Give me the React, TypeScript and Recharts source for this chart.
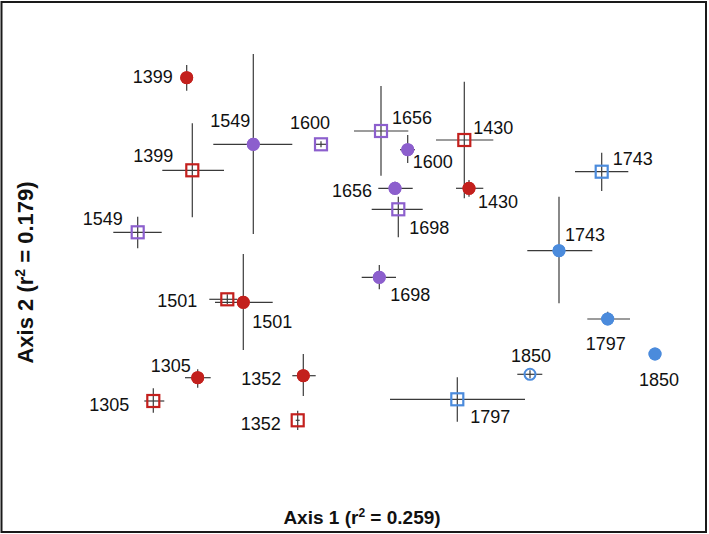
import React from 'react';
import { ScatterChart, Scatter, XAxis, YAxis, ErrorBar } from 'recharts';

// Ordination scores (arbitrary axis units), error extents [low, high]
const redCircles = [
  { year: '1305', x: 196.7, y: 154.3, ex: [12.7, 13], ey: [10, 8.4] },
  { year: '1352', x: 302.3, y: 156.3, ex: [11, 12.4], ey: [20.3, 21.7] },
  { year: '1399', x: 185.7, y: 454.3, ex: [0, 0], ey: [13, 12.7] },
  { year: '1430', x: 468, y: 343.7, ex: [13, 14.3], ey: [8.4, 8.3] },
  { year: '1501', x: 242.3, y: 229.7, ex: [28.3, 29.4], ey: [47.7, 48.3] },
];
const redSquares = [
  { year: '1305', x: 152.3, y: 131, ex: [9, 11], ey: [11.7, 12.7] },
  { year: '1352', x: 296.7, y: 111.7, ex: [2, 2], ey: [9.7, 9.6] },
  { year: '1399', x: 191.3, y: 361.7, ex: [30, 31.7], ey: [47, 47] },
  { year: '1430', x: 463.3, y: 392, ex: [28.3, 29], ey: [58.3, 58.3] },
  { year: '1501', x: 226.3, y: 232.7, ex: [18, 10], ey: [5, 5] },
];
const purpleCircles = [
  { year: '1549', x: 252.3, y: 387.7, ex: [40, 39], ey: [89.7, 90.3] },
  { year: '1600', x: 406.7, y: 382.3, ex: [7.7, 7.3], ey: [13.3, 14.7] },
  { year: '1656', x: 394, y: 343.7, ex: [16.7, 17.7], ey: [6.7, 6.6] },
  { year: '1698', x: 378.3, y: 254.7, ex: [17.6, 16.7], ey: [12, 12.3] },
];
const purpleSquares = [
  { year: '1549', x: 136.7, y: 299.7, ex: [24.4, 24], ey: [16, 15.6] },
  { year: '1600', x: 320, y: 387.7, ex: [6, 7], ey: [3, 3] },
  { year: '1656', x: 380, y: 401, ex: [27, 27.3], ey: [44.7, 45] },
  { year: '1698', x: 397.3, y: 322.7, ex: [26.6, 24.4], ey: [28, 12.6] },
];
const blueCircles = [
  { year: '1743', x: 558, y: 281.3, ex: [31.7, 33.3], ey: [52.6, 54] },
  { year: '1797', x: 606.7, y: 213, ex: [20.4, 22.3], ey: [6, 7.3] },
  { year: '1850', x: 654, y: 178, ex: [0, 0], ey: [0, 0] },
];
const blueSquares = [
  { year: '1743', x: 600.7, y: 360.3, ex: [26.7, 26.6], ey: [19.3, 19] },
  { year: '1797', x: 456.3, y: 132.7, ex: [67.3, 67.7], ey: [22.4, 22] },
];
const blueOpenCircles = [
  { year: '1850', x: 529, y: 157.7, ex: [12.7, 12.3], ey: [4, 4] },
];

const xDomain = [0, 705];
const yDomain = [0, 530];
const xTitle = 'Axis 1 (r';
const xTitleTail = ' = 0.259)';
const yTitle = 'Axis 2 (r';
const yTitleTail = ' = 0.179)';

// label placement (styling): [anchor, dx, dy]
const labelPos: Record<string, [string, number, number]> = {
  'rc-1305': ['end', -7, -12], 'rc-1352': ['end', -22, 3], 'rc-1399': ['end', -14, -1],
  'rc-1430': ['start', 9, 13], 'rc-1501': ['start', 9, 19],
  'rs-1305': ['end', -24, 3], 'rs-1352': ['end', -17, 3], 'rs-1399': ['end', -19, -15],
  'rs-1430': ['start', 9, -13], 'rs-1501': ['end', -30, 1],
  'pc-1549': ['end', -3, -24], 'pc-1600': ['start', 5, 12], 'pc-1656': ['end', -23, 2],
  'pc-1698': ['start', 11, 17],
  'ps-1549': ['end', -15, -14], 'ps-1600': ['middle', -11, -22], 'ps-1656': ['start', 11, -14],
  'ps-1698': ['start', 11, 18],
  'bc-1743': ['start', 6, -16], 'bc-1797': ['middle', -2, 24], 'bc-1850': ['middle', 4, 25],
  'bs-1743': ['start', 11, -13], 'bs-1797': ['start', 13, 17],
  'bo-1850': ['middle', 1, -19],
};

const RED = '#c3201d';
const PURPLE = '#8c5fcd';
const BLUE = '#4b8bdc';
const FONT = '"Liberation Sans", Arial, Helvetica, sans-serif';

const makeShape = (kind: string, color: string, key: string, withLabel: boolean) => (props: any) => {
  const { cx, cy, payload } = props;
  if (cx == null || cy == null) return null;
  const lp = labelPos[`${key}-${payload.year}`] || ['start', 8, 0];
  let marker;
  if (kind === 'circle') {
    marker = <circle cx={cx} cy={cy} r={6.5} fill={color} />;
  } else if (kind === 'square') {
    marker = <rect x={cx - 6} y={cy - 6} width={12} height={12} fill="none" stroke={color} strokeWidth={2.2} />;
  } else {
    marker = <circle cx={cx} cy={cy} r={5.5} fill="none" stroke={color} strokeWidth={2} />;
  }
  return (
    <g>
      {marker}
      {withLabel && (
        <text
          x={cx + lp[1]}
          y={cy + lp[2] + 6.5}
          textAnchor={lp[0] as any}
          fontFamily={FONT}
          fontSize={18}
          fill="#111"
        >
          {payload.year}
        </text>
      )}
    </g>
  );
};

const series = [
  { data: redCircles, kind: 'circle', color: RED, key: 'rc' },
  { data: redSquares, kind: 'square', color: RED, key: 'rs' },
  { data: purpleCircles, kind: 'circle', color: PURPLE, key: 'pc' },
  { data: purpleSquares, kind: 'square', color: PURPLE, key: 'ps' },
  { data: blueCircles, kind: 'circle', color: BLUE, key: 'bc' },
  { data: blueSquares, kind: 'square', color: BLUE, key: 'bs' },
  { data: blueOpenCircles, kind: 'open', color: BLUE, key: 'bo' },
];

export default function App() {
  return (
    <div style={{ position: 'absolute', left: 0, top: 0, width: 709, height: 534, background: '#fff' }}>
      <ScatterChart width={709} height={534} margin={{ top: 2, right: 3, bottom: 2, left: 1 }}>
        <XAxis type="number" dataKey="x" domain={xDomain} hide />
        <YAxis type="number" dataKey="y" domain={yDomain} hide />
        {series.map((s) => (
          <Scatter
            key={s.key}
            name={s.key}
            data={s.data}
            isAnimationActive={false}
            shape={makeShape(s.kind, s.color, s.key, true)}
          >
            <ErrorBar dataKey="ex" direction="x" width={0} stroke="#3a3a3a" strokeWidth={1.2} isAnimationActive={false} />
            <ErrorBar dataKey="ey" direction="y" width={0} stroke="#3a3a3a" strokeWidth={1.2} isAnimationActive={false} />
          </Scatter>
        ))}
        {series
          .filter((s) => s.kind === 'circle')
          .map((s) => (
            <Scatter
              key={`${s.key}-top`}
              name={`${s.key}-top`}
              data={s.data}
              isAnimationActive={false}
              shape={makeShape(s.kind, s.color, s.key, false)}
            />
          ))}
      </ScatterChart>
      <svg width={709} height={534} style={{ position: 'absolute', left: 0, top: 0, pointerEvents: 'none' }}>
        <rect x={1.5} y={2} width={704.5} height={530} fill="none" stroke="#1a1a1a" strokeWidth={2} />
        <text x={362} y={524} textAnchor="middle" fontFamily={FONT} fontWeight="bold" fontSize={19} fill="#111">
          {xTitle}
          <tspan dy={-7} fontSize={12}>2</tspan>
          <tspan dy={7}>{xTitleTail}</tspan>
        </text>
        <text
          x={0}
          y={0}
          transform="translate(33, 272.5) rotate(-90)"
          textAnchor="middle"
          fontFamily={FONT}
          fontWeight="bold"
          fontSize={22}
          fill="#111"
        >
          {yTitle}
          <tspan dy={-8} fontSize={14}>2</tspan>
          <tspan dy={8}>{yTitleTail}</tspan>
        </text>
      </svg>
    </div>
  );
}
